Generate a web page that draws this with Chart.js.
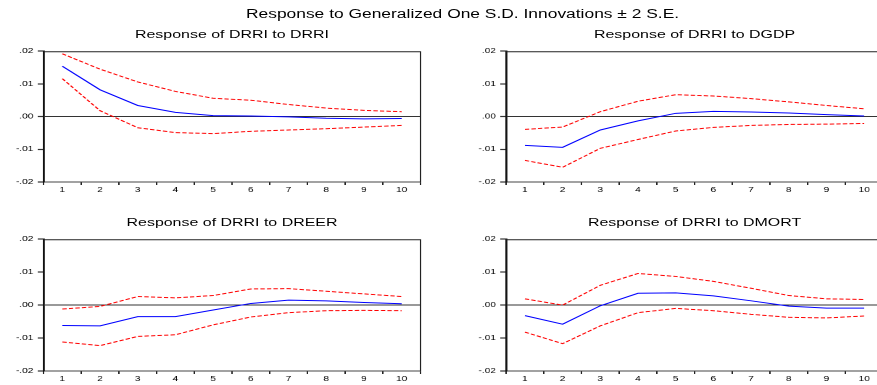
<!DOCTYPE html>
<html><head><meta charset="utf-8">
<script src="https://cdn.jsdelivr.net/npm/chart.js@4"></script>
<style>
html,body{margin:0;padding:0;background:#fff;overflow:hidden;width:877px;height:385px}
#fig{position:absolute;left:0;top:0;width:625px;height:385px;transform:scaleX(1.45);transform-origin:0 0}
.t{position:absolute;font-family:"Liberation Sans",Arial,sans-serif;color:#000;white-space:nowrap;transform:translateX(-50%)}
canvas{position:absolute}
</style></head><body>
<div id="fig">
<div class="t" style="left:319px;top:8px;font-size:12px;line-height:12px">Response to Generalized One S.D. Innovations ± 2 S.E.</div>
<div class="t" id="t1" style="left:160px;top:28.5px;font-size:11px;line-height:11px"></div>
<div class="t" id="t2" style="left:479px;top:28.5px;font-size:11px;line-height:11px"></div>
<div class="t" id="t3" style="left:160px;top:217px;font-size:11px;line-height:11px"></div>
<div class="t" id="t4" style="left:479px;top:217px;font-size:11px;line-height:11px"></div>
<canvas id="c1" width="300" height="152" style="left:0px;top:44px;width:300px;height:152px"></canvas>
<canvas id="c2" width="300" height="152" style="left:319px;top:44px;width:300px;height:152px"></canvas>
<canvas id="c3" width="300" height="153" style="left:0px;top:232px;width:300px;height:153px"></canvas>
<canvas id="c4" width="300" height="153" style="left:319px;top:232px;width:300px;height:153px"></canvas>
</div>
<script>
const periods = ['1','2','3','4','5','6','7','8','9','10'];
const yTickLabels = ['-.02','-.01','.00','.01','.02'];
const panelTitles = ['Response of DRRI to DRRI','Response of DRRI to DGDP','Response of DRRI to DREER','Response of DRRI to DMORT'];

const drriResp  = [0.0154,0.0082,0.0034,0.0013,0.0003,0.0002,-0.0001,-0.0005,-0.0007,-0.0006];
const drriUpper = [0.0192,0.0145,0.0106,0.0077,0.0056,0.0050,0.0037,0.0026,0.0019,0.0015];
const drriLower = [0.0116,0.0018,-0.0034,-0.0049,-0.0052,-0.0045,-0.0041,-0.0037,-0.0032,-0.0027];

const dgdpResp  = [-0.0088,-0.0094,-0.0041,-0.0013,0.0010,0.0016,0.0014,0.0011,0.0006,0.0002];
const dgdpUpper = [-0.0039,-0.0032,0.0015,0.0047,0.0067,0.0063,0.0055,0.0045,0.0034,0.0024];
const dgdpLower = [-0.0134,-0.0155,-0.0097,-0.0070,-0.0044,-0.0033,-0.0027,-0.0024,-0.0023,-0.0021];

const dreerResp  = [-0.0062,-0.0063,-0.0035,-0.0035,-0.0015,0.0005,0.0015,0.0013,0.0008,0.0004];
const dreerUpper = [-0.0012,-0.0004,0.0026,0.0022,0.0029,0.0049,0.0050,0.0042,0.0034,0.0026];
const dreerLower = [-0.0112,-0.0123,-0.0095,-0.0090,-0.0060,-0.0036,-0.0023,-0.0017,-0.0016,-0.0017];

const dmortResp  = [-0.0032,-0.0058,-0.0002,0.0036,0.0037,0.0028,0.0013,-0.0003,-0.0009,-0.0009];
const dmortUpper = [0.0019,0.0000,0.0060,0.0096,0.0087,0.0072,0.0051,0.0029,0.0019,0.0017];
const dmortLower = [-0.0082,-0.0117,-0.0063,-0.0023,-0.0010,-0.0017,-0.0028,-0.0037,-0.0039,-0.0033];

const FONT = '"Liberation Sans", Arial, sans-serif';
const AXIS = '#222';

const framePlugin = {
  id: 'frame',
  afterDraw(chart) {
    const {ctx, chartArea: a} = chart;
    ctx.save();
    ctx.strokeStyle = AXIS;
    ctx.lineWidth = 1;
    ctx.beginPath();
    ctx.moveTo(a.left, a.top + 0.5);
    ctx.lineTo(a.right, a.top + 0.5);
    ctx.moveTo(a.right, a.top);
    ctx.lineTo(a.right, a.bottom);
    ctx.stroke();
    ctx.restore();
  }
};

function makePanel(id, titleId, title, resp, upper, lower) {
  document.getElementById(titleId).textContent = title;
  const red = {borderColor:'#ff0000', borderWidth:1, borderDash:[3,1.5], pointRadius:0, tension:0, fill:false};
  new Chart(document.getElementById(id), {
    type: 'line',
    data: {
      labels: periods,
      datasets: [
        Object.assign({data: upper}, red),
        Object.assign({data: lower}, red),
        {data: resp, borderColor:'#0000ff', borderWidth:1, pointRadius:0, tension:0, fill:false}
      ]
    },
    options: {
      responsive: false,
      animation: false,
      devicePixelRatio: 2,
      layout: {padding: {left:0, top:6, right:10, bottom:0}},
      plugins: {legend:{display:false}, tooltip:{enabled:false}, title:{display:false}},
      scales: {
        x: {
          type: 'category',
          offset: true,
          grid: {offset:true, drawOnChartArea:false, tickLength:3, color:'#444', tickColor:'#222'},
          border: {color:'#444', width:1},
          ticks: {font:{size:7, family:FONT}, color:'#000', padding:1, maxRotation:0, autoSkip:false},
          afterFit(s) { s.height = 14; }
        },
        y: {
          min: -0.02, max: 0.02,
          ticks: {stepSize:0.01, font:{size:7, family:FONT}, color:'#000', padding:3,
                  callback: (v, i) => yTickLabels[i]},
          grid: {
            color: c => (c.tick && Math.abs(c.tick.value) < 1e-9) ? '#333' : 'rgba(0,0,0,0)',
            tickColor: '#333', tickLength: 4, tickWidth: 1.2
          },
          border: {color:'#111', width:1.4},
          afterFit(s) { s.width = 30; }
        }
      }
    },
    plugins: [framePlugin]
  });
}

makePanel('c1','t1',panelTitles[0], drriResp, drriUpper, drriLower);
makePanel('c2','t2',panelTitles[1], dgdpResp, dgdpUpper, dgdpLower);
makePanel('c3','t3',panelTitles[2], dreerResp, dreerUpper, dreerLower);
makePanel('c4','t4',panelTitles[3], dmortResp, dmortUpper, dmortLower);
</script>
</body></html>
